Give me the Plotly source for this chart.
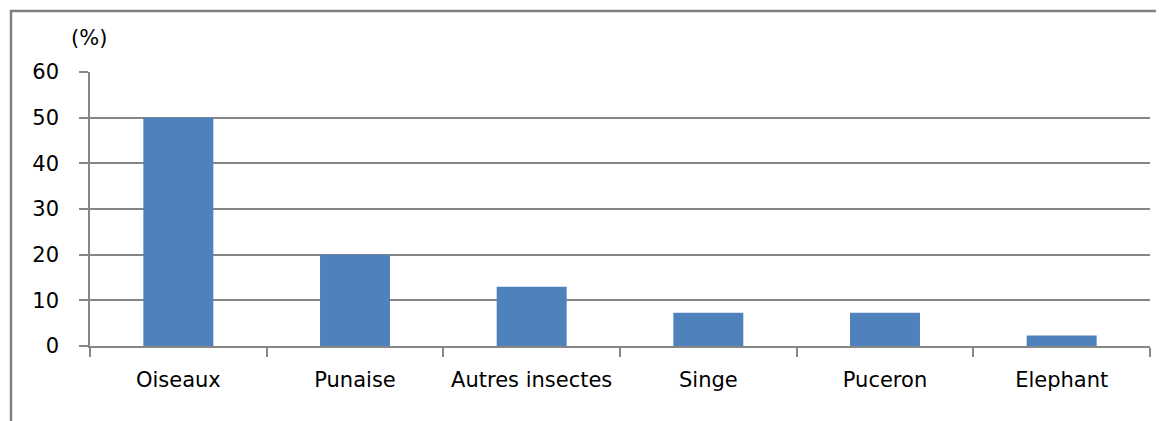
import plotly.graph_objects as go

categories = ["Oiseaux", "Punaise", "Autres insectes", "Singe", "Puceron", "Elephant"]
values = [50, 20, 13, 7.3, 7.3, 2.3]
y_ticks = [0, 10, 20, 30, 40, 50, 60]

OFF = 8  # page body margin
W, H = 1164 - OFF, 421 - OFF
ml, mr, mt, mb = 90 - OFF, 14, 72 - OFF, 75
pw, ph = W - ml - mr, H - mt - mb

def px(x):
    return (x - OFF - ml) / pw

def py(y):
    return (H - mb - (y - OFF)) / ph

FONT = "DejaVu Sans"
grid = "#868686"
FS = 21

fig = go.Figure(go.Bar(x=categories, y=values, marker_color="#4F81BD",
                       marker_line_width=0, width=0.396))

fig.update_layout(
    width=W, height=H,
    margin=dict(l=ml, r=mr, t=mt, b=mb),
    paper_bgcolor="white", plot_bgcolor="white",
    showlegend=False,
    font=dict(family=FONT, size=FS, color="#000000"),
    xaxis=dict(type="category", tickson="boundaries", ticks="outside", ticklen=9,
               tickcolor=grid, tickwidth=1.5, showline=True, linecolor=grid, linewidth=1.5,
               showgrid=False, tickfont=dict(family=FONT, size=FS), ticklabelstandoff=14),
    yaxis=dict(range=[0, 60], tickvals=y_ticks, ticks="outside", ticklen=9,
               tickcolor=grid, tickwidth=1.5, showline=True, linecolor=grid, linewidth=1.5,
               showgrid=True, gridcolor=grid, gridwidth=1.5, zeroline=False,
               tickfont=dict(family=FONT, size=FS), ticklabelstandoff=16),
)

fig.add_annotation(text="(%)", xref="paper", yref="paper", x=px(89), y=py(38),
                   showarrow=False, xanchor="center", yanchor="middle",
                   font=dict(family=FONT, size=FS))

fig.add_shape(type="rect", xref="paper", yref="paper",
              x0=px(11), x1=px(1200), y0=py(460), y1=py(11),
              line=dict(color="#7f7f7f", width=2.5), fillcolor="rgba(0,0,0,0)", layer="above")

fig.write_html("out.html")
